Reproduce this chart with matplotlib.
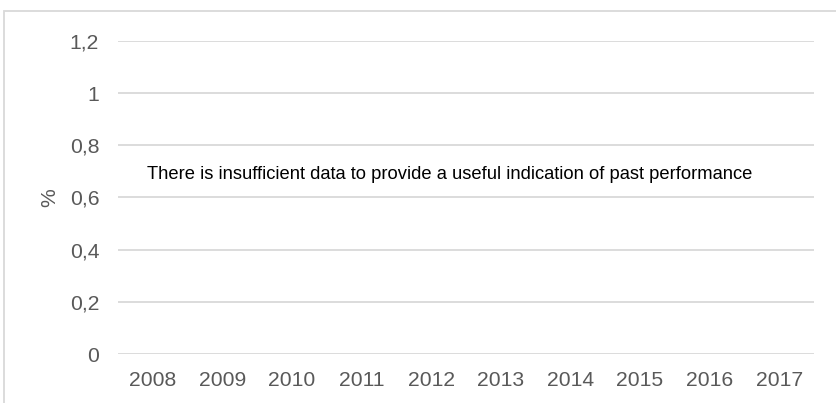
import matplotlib
matplotlib.use("Agg")
import matplotlib.pyplot as plt
from matplotlib.patches import Rectangle

years = ["2008", "2009", "2010", "2011", "2012", "2013", "2014", "2015", "2016", "2017"]
y_ticks = [0, 0.2, 0.4, 0.6, 0.8, 1.0, 1.2]
y_tick_labels = ["0", "0,2", "0,4", "0,6", "0,8", "1", "1,2"]
message = "There is insufficient data to provide a useful indication of past performance"

plt.rcParams['font.family'] = ['Liberation Sans', 'DejaVu Sans']

W, H = 836, 403
fig = plt.figure(figsize=(W / 100, H / 100), dpi=100)
ax = fig.add_axes([118 / W, 1 - 354 / H, (814 - 118) / W, (354 - 41) / H])

ax.set_xlim(-0.5, len(years) - 0.5)
ax.set_ylim(0, 1.2)
ax.set_xticks(range(len(years)))
ax.set_xticklabels(years)
ax.set_yticks(y_ticks)
ax.set_yticklabels(y_tick_labels)
ax.tick_params(axis='both', length=0, labelsize=15.2, colors='#595959')
ax.tick_params(axis='y', pad=13.5)
ax.tick_params(axis='x', pad=12)
ax.grid(axis='y', color='#d9d9d9', linewidth=1.3)
ax.set_axisbelow(True)
for s in ax.spines.values():
    s.set_visible(False)

ax.set_ylabel('%', fontsize=15.2, color='#595959')
ax.yaxis.set_label_coords((50 - 118) / (814 - 118), 0.5)
ax.yaxis.label.set_va('center')

ax.text((147 - 118) / (814 - 118), 0.69 / 1.2, message, transform=ax.transAxes,
        ha='left', va='center', fontsize=13.25, color='#000000')

fig.patches.append(Rectangle((3.5 / W, -0.1), 1.0, 1 - 10.5 / H + 0.1, transform=fig.transFigure,
                             fill=False, edgecolor='#d9d9d9', linewidth=1.3))

fig.savefig('out.png', dpi=100)
